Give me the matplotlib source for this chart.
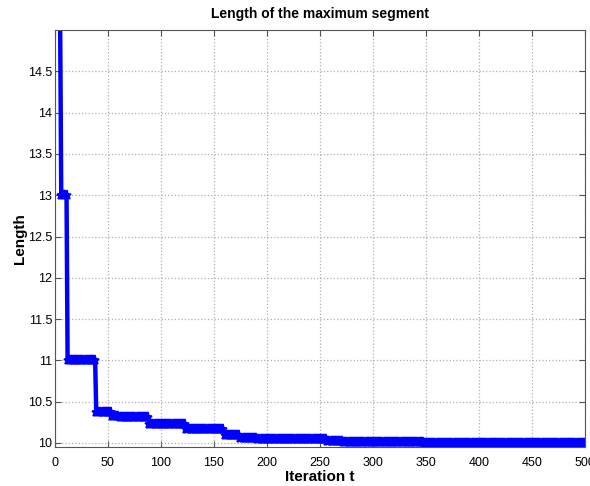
import numpy as np
import matplotlib
matplotlib.use('Agg')
import matplotlib.pyplot as plt
from matplotlib.ticker import FormatStrFormatter

# step levels of the best (maximum segment) length
levels = [17.0, 16.0, 15.5, 15.2, 15.05, 13.0, 11.0, 10.38, 10.33, 10.31, 10.226,
          10.17, 10.097, 10.057, 10.045, 10.028, 10.01, 10.005]
# how many iterations each level lasts (sums to 500)
run_len = [1, 1, 1, 1, 1, 6, 27, 15, 7, 28, 35,
           36, 15, 16, 66, 15, 76, 153]

vals = np.repeat(levels, run_len)
t = np.arange(1, len(vals) + 1)

plt.rcParams['font.family'] = ['Liberation Sans', 'DejaVu Sans']
fig = plt.figure(figsize=(5.9, 4.86), dpi=100)
ax = fig.add_axes([0.093, 0.080, 0.8985, 0.858])

ax.plot(t, vals, color='blue', linewidth=3.2, marker='*', markersize=6.5,
        markeredgewidth=1.1)

ax.set_xlim(0, 500)
ax.set_ylim(9.95, 15.0)
ax.set_xticks(np.arange(0, 501, 50))
ax.set_yticks(np.arange(10, 14.51, 0.5))
ax.yaxis.set_major_formatter(FormatStrFormatter('%g'))
ax.tick_params(direction='in', top=True, right=True, labelsize=9, length=4,
               color='#555555')
ax.tick_params(axis='x', pad=7)
ax.tick_params(axis='y', pad=2)
for s in ax.spines.values():
    s.set_color('#555555')
ax.grid(True, linestyle=':', color='#b0b0b0', linewidth=0.9)

ax.set_title('Length of the maximum segment', fontsize=10, fontweight='bold',
             pad=9)
ax.set_xlabel('Iteration t', fontsize=11, fontweight='bold')
ax.set_ylabel('Length', fontsize=11, fontweight='bold')
ax.xaxis.set_label_coords(0.5, -0.055)
ax.yaxis.set_label_coords(-0.052, 0.5)

fig.savefig('out.png', dpi=100)
